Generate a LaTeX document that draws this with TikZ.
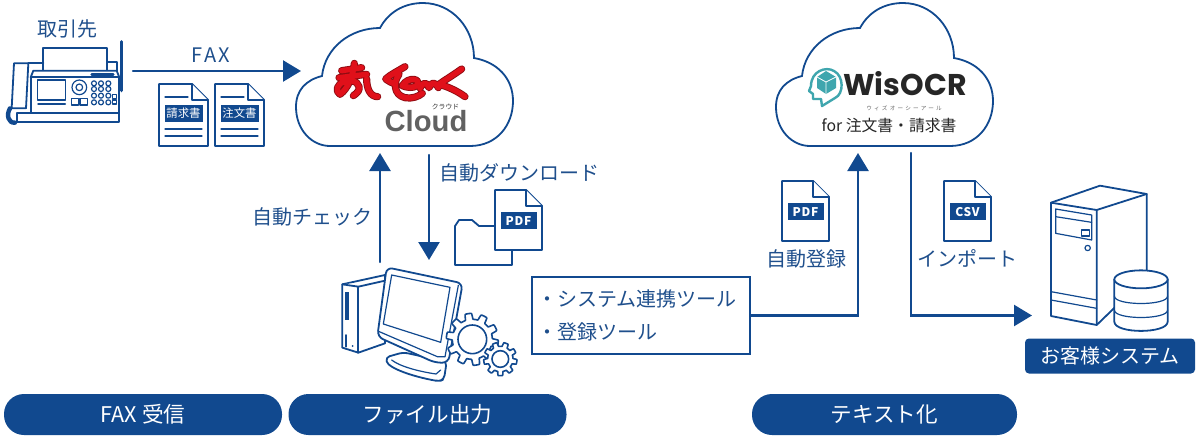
\documentclass[tikz,border=0pt]{standalone}
\usepackage{fontspec}
\setmainfont{Noto Sans CJK JP}
\newfontfamily\cloudfont{Liberation Sans}
\newfontfamily\wisfont{Poppins}
\usetikzlibrary{arrows.meta, positioning}
\definecolor{flowblue}{HTML}{11498F}
\definecolor{labelblue}{HTML}{1F4F8C}
\definecolor{logored}{HTML}{E0101A}
\definecolor{logodark}{HTML}{8E0C12}
\definecolor{wisteal}{HTML}{3FA6AE}

\tikzset{
  flowline/.style={-{Triangle[length=9pt,width=10.5pt]}, flowblue, line width=1.2pt},
  iconline/.style={draw=flowblue, line width=0.9pt, line join=round, fill=white},
  thinline/.style={draw=flowblue, line width=0.6pt, line join=round},
  steplabel/.style={text=labelblue, font=\fontsize{10}{12}\selectfont, inner sep=0pt},
  banner/.style={fill=flowblue, text=white, rounded corners=10pt, minimum width=139pt, minimum height=20.5pt, inner sep=0pt, font=\fontsize{10.8}{12}\selectfont},
  bandtext/.style={fill=flowblue, text=white, minimum width=18pt, minimum height=8.5pt, text height=4.6pt, text depth=0pt, inner sep=0pt},
  pics/cloudshape/.style={code={
    \draw[draw=flowblue, line width=0.9pt, fill=white]
      (330,146) -- (470,146) .. controls (497,146) and (513,125) .. (513,101)
      .. controls (513,78) and (497,62) .. (474,58)
      .. controls (474,28) and (452,3) .. (423,3)
      .. controls (403,3) and (388,13) .. (380,28)
      .. controls (350,28) and (325,48) .. (322,76)
      .. controls (306,80) and (296,90) .. (296,107)
      .. controls (296,130) and (312,146) .. (330,146) -- cycle;
  }},
  pics/docicon/.style={code={
    \draw[iconline] (0,0) -- (31,0) -- (47,16) -- (47,60) -- (0,60) -- cycle;
    \draw[iconline] (31,0) -- (31,16) -- (47,16);
    \node[bandtext, font=\bfseries\fontsize{6}{7}\selectfont\addfontfeature{LetterSpace=6}] (-band) at (23.5,30.5) {#1};
  }},
  pics/formicon/.style={code={
    \draw[iconline] (0,0) -- (33,0) -- (49,16) -- (49,62) -- (0,62) -- cycle;
    \draw[iconline] (33,0) -- (33,16) -- (49,16);
    \draw[thinline] (6,13) -- (29,13) (6,45) -- (43,45) (6,52) -- (43,52);
    \node[bandtext, minimum width=19pt, font=\fontsize{5.7}{7}\selectfont] (-band) at (24.5,29) {#1};
  }}
}

\begin{document}
\begin{tikzpicture}[x=0.5pt,y=-0.5pt,line cap=round]
    \useasboundingbox (0,0) rectangle (1200,440);

    % Clouds
    \pic at (0,0) {cloudshape};
    \pic at (480,0) {cloudshape};

    % Red logo
    \begin{scope}[shift={(325,55)},scale=1/3]
      \foreach \strokecolor/\strokewidth in {logodark/3.6pt, logored/2.7pt} {
        \draw[\strokecolor, line width=\strokewidth, line cap=round, line join=round]
          (50,47) -- (110,38)
          (42,68) -- (125,58)
          (88,25) .. controls (85,60) and (70,100) .. (45,118)
            .. controls (30,110) and (35,85) .. (60,80)
            .. controls (90,70) and (110,90) .. (100,108) .. controls (97,114) and (90,118) .. (85,122)
          (125,72) .. controls (125,100) and (135,125) .. (158,125)
          (240,35) .. controls (215,50) and (195,60) .. (182,72) .. controls (190,80) and (200,82) .. (212,88)
          (222,58) .. controls (205,80) and (205,120) .. (240,128) .. controls (260,132) and (280,125) .. (292,115)
          (232,92) .. controls (250,62) and (292,72) .. (275,92) .. controls (265,100) and (245,98) .. (232,92)
          (285,100) .. controls (295,80) and (305,80) .. (312,98) .. controls (320,80) and (330,80) .. (340,98)
          (410,42) .. controls (385,60) and (360,75) .. (342,88) .. controls (370,95) and (400,110) .. (420,125);
      }
    \end{scope}
    \node[text=black!62, inner sep=0pt, font=\cloudfont\bfseries\fontsize{14.6}{16}\selectfont] (cloudword) at (426,121) {Cloud};
    \node[text=black!80, inner sep=0pt, font=\fontsize{3.4}{4}\selectfont] (cloudkana) at (445.5,106.5) {クラウド};

    % WisOCR logo
    \draw[wisteal, line width=1.2pt, line join=round, fill=white]
      (813,99) -- (813,94) -- (809,91) -- (811,86) .. controls (811,71) and (826,66) .. (834,71)
      .. controls (844,76) and (844,94) .. (835,98) -- (822,106) -- (821,99) -- cycle;
    \fill[wisteal] (826,71) -- (836,77) -- (836,88) -- (826,94) -- (817,88) -- (817,77) -- cycle;
    \draw[white, line width=0.4pt] (817,77) -- (826,82) -- (836,77) (826,82) -- (826,94);
    \node[text=black!85, inner sep=0pt, font=\wisfont\bfseries\fontsize{15}{16}\selectfont] (wisword) at (905,84) {WisOCR};
    \node[text=black!60, inner sep=0pt, font=\fontsize{2.8}{3}\selectfont\addfontfeature{LetterSpace=40}] (wiskana) at (904,108) {ウィズオーシーアール};
    \node[text=black!85, inner sep=0pt, font=\fontsize{7.9}{10}\selectfont] (wisfor) at (889,125) {for 注文書・請求書};

    % Fax machine
    \begin{scope}[scale=1/3]
      \draw[iconline] (130,212) -- (130,145) -- (322,145) -- (322,212);
      \draw[iconline] (85,190) -- (130,190) (322,185) -- (350,185) -- (350,212);
      \draw[iconline] (92,232) -- (100,212) -- (350,212) -- (358,232) -- cycle;
      \draw[iconline] (92,232) rectangle (358,340);
      \draw[iconline] (50,340) rectangle (358,365);
      \draw[iconline] (42,190) -- (85,190) -- (78,325) -- (35,325) -- cycle;
      \draw[flowblue, line width=2.2pt] (30,325) .. controls (18,345) and (25,370) .. (45,368);
      \draw[flowblue, line width=1.6pt, line cap=round] (365,125) -- (365,272);
      \draw[thinline] (112,240) rectangle (197,300);
      \draw[flowblue, line width=1.2pt] (275,223) -- (340,223) (115,312) -- (195,312);
      \draw[thinline] (238,262) circle (22) (238,262) circle (10);
      \draw[thinline] (215,295) rectangle (235,315) (240,295) rectangle (262,315);
      \foreach \keyx in {282,303,325} {
        \foreach \keyy in {250,267,287,307} {
          \draw[thinline] (\keyx,\keyy) circle (7.5);
        }
      }
      \draw[thinline] (338,283) rectangle (350,295) (338,300) rectangle (350,312);
    \end{scope}

    % Fax forms
    \pic at (159,84) {formicon={請求書}};
    \pic at (215,84) {formicon={注文書}};

    % PDF beside folder
    \draw[iconline] (455,265) -- (455,226) -- (459,220) -- (472,220) -- (479,226) -- (500,226) -- (512,226) -- (512,265) -- cycle;
    \pic at (495,190) {docicon={PDF}};
    \pic at (782,181) {docicon={PDF}};
    \pic at (944,181) {docicon={CSV}};

    % Computer
    \begin{scope}[shift={(320,180)},scale=1/3]
      \draw[iconline] (67,313) -- (195,285) -- (195,490) -- (115,518) -- (67,503) -- cycle;
      \draw[iconline] (67,313) -- (115,320) -- (195,302);
      \draw[iconline] (115,320) -- (115,518);
      \fill[flowblue] (75,335) rectangle (88,420);
      \draw[flowblue, line width=0.9pt] (79,465) -- (79,500);
      \fill[flowblue] (98,498) circle (3);
      % stand
      \draw[iconline, rounded corners=2pt] (250,517) -- (197,532) .. controls (205,565) and (280,590) .. (358,604) -- (372,598) -- (380,545) -- cycle;
      \draw[thinline] (215,540) .. controls (240,560) and (300,575) .. (348,582) -- (362,570);
      % screen
      \draw[iconline, rounded corners=3pt] (200,262) -- (428,310) -- (385,548) -- (345,548) -- (172,470) -- cycle;
      \draw[thinline] (415,316) -- (375,530);
      \draw[thinline] (178,455) -- (352,530) -- (375,530);
      \draw[thinline] (215,285) -- (390,322) -- (362,487) -- (190,432) -- cycle;
      % gears
      \foreach \gearx/\geary/\outr/\innr/\holer/\teeth in {457/478/78/60/43/10, 541/537/50/38/25/9} {
        \draw[thinline, fill=white, line width=0.8pt] plot[domain=0:360, samples=241, variable=\t]
          ({\gearx+(\innr+(\outr-\innr)*max(0,min(1,0.5+1.6*sin(\teeth*\t))))*cos(\t)},
           {\geary+(\innr+(\outr-\innr)*max(0,min(1,0.5+1.6*sin(\teeth*\t))))*sin(\t)}) -- cycle;
        \draw[thinline, line width=0.8pt] (\gearx,\geary) circle (\holer);
      }
    \end{scope}

    % Server
    \begin{scope}[shift={(1000,180)},scale=1/3]
      \draw[iconline] (153,68) -- (300,17) -- (440,42) -- (440,290) -- (290,435) -- (153,408) -- cycle;
      \draw[iconline] (153,68) -- (290,90) -- (440,42) (290,90) -- (290,435);
      \draw[thinline] (167,87) -- (275,105) -- (275,180) -- (167,160) -- cycle;
      \draw[thinline] (167,110) -- (275,127);
      \draw[thinline] (245,150) rectangle (268,168);
      \draw[thinline] (263,204) circle (8);
      \draw[thinline] (153,335) -- (290,360) (153,360) -- (290,385);
      % database
      \draw[iconline] (343,298) -- (343,425) .. controls (343,462) and (503,462) .. (503,425) -- (503,298);
      \draw[iconline] (423,298) ellipse (80 and 27);
      \draw[thinline] (343,348) .. controls (343,378) and (503,378) .. (503,348);
      \draw[thinline] (343,390) .. controls (343,420) and (503,420) .. (503,390);
    \end{scope}

    % Labels
    \node[steplabel] (faxsource) at (68,29) {取引先};
    \node[steplabel, font=\fontsize{10}{12}\selectfont\addfontfeature{LetterSpace=12}] (faxlabel) at (211,55) {FAX};
    \node[steplabel] (checklabel) at (312,217) {自動チェック};
    \node[steplabel] (downlabel) at (519,173) {自動ダウンロード};
    \node[steplabel] (entrylabel) at (806,259) {自動登録};
    \node[steplabel] (importlabel) at (967,258) {インポート};

    % Tool box
    \node[draw=flowblue, line width=1.1pt, fill=white, text=labelblue, minimum width=109pt, minimum height=38.5pt,
          inner sep=0pt, align=left, text width=104pt, font=\fontsize{10}{16.5}\selectfont] (toolbox) at (641,315.5)
          {・システム連携ツール\\・登録ツール};

    % Connector ends
    \coordinate (faxout) at (133,71);
    \coordinate (cloudin) at (301,71);
    \coordinate (pcup) at (380,262);
    \coordinate (cloudup) at (380,153);
    \coordinate (clouddown) at (429,155);
    \coordinate (pcin) at (429,260);
    \coordinate (wisin) at (858,153);
    \coordinate (wisout) at (911,153);
    \coordinate (serverin) at (1032,315.5);

    % Arrows
    \draw[flowline] (faxout) -- (cloudin);
    \draw[flowline] (pcup) -- (cloudup);
    \draw[flowline] (clouddown) -- (pcin);
    \draw[flowline] (toolbox.east) -| (wisin);
    \draw[flowline] (wisout) |- (serverin);

    % Customer system and banners
    \node[fill=flowblue, text=white, rounded corners=2pt, minimum width=85pt, minimum height=17.5pt, inner sep=0pt,
          font=\fontsize{10}{12}\selectfont] (systemtag) at (1110,356) {お客様システム};
    \node[banner] (bannerfax) at (143,414.5) {FAX 受信};
    \node[banner] (bannerfile) at (427.5,414.5) {ファイル出力};
    \node[banner, minimum width=132.5pt] (bannertext) at (884.5,414.5) {テキスト化};
\end{tikzpicture}
\end{document}
